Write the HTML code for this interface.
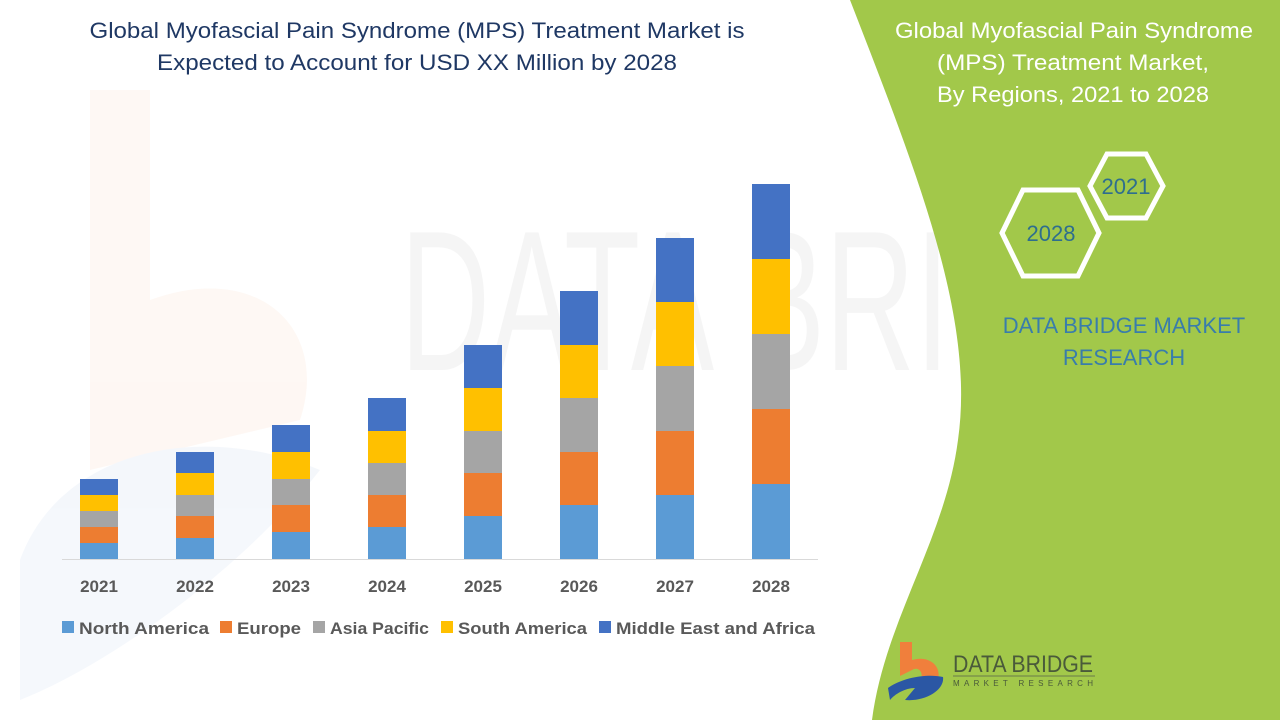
<!DOCTYPE html>
<html><head><meta charset="utf-8"><style>
body{margin:0;width:1280px;height:720px;overflow:hidden;background:#fff;font-family:"Liberation Sans",sans-serif;}
</style></head><body>
<svg width="1280" height="720" viewBox="0 0 1280 720" xmlns="http://www.w3.org/2000/svg" style="position:absolute;left:0;top:0">
<g opacity="0.05">
<path d="M90 90 L150 90 L150 300 C 260 260 330 330 300 420 L 90 470 Z" fill="#ED7D31"/>
<path d="M20 560 C 60 450 200 420 320 470 C 250 560 120 660 20 700 Z" fill="#4472C4"/>
</g>
<text x="400" y="370" font-size="200" fill="#000" opacity="0.035" font-family="Liberation Sans" textLength="820" lengthAdjust="spacingAndGlyphs">DATA BRIDGE</text>
<path d="M850 0 C 920 180, 975 320, 958 440 C 945 540, 885 620, 872 720 L1280 720 L1280 0 Z" fill="#A2C84A"/>
<line x1="62" y1="559.5" x2="818" y2="559.5" stroke="#d9d9d9" stroke-width="1"/>
<g id="bars"></g>
<g font-size="17" font-weight="bold" fill="#595959" text-anchor="middle">
<text x="99" y="592">2021</text><text x="195" y="592">2022</text><text x="291" y="592">2023</text><text x="387" y="592">2024</text><text x="483" y="592">2025</text><text x="579" y="592">2026</text><text x="675" y="592">2027</text><text x="771" y="592">2028</text>
</g>
<g font-size="17" font-weight="bold" fill="#595959">
<rect x="62" y="621" width="12" height="12" fill="#5B9BD5"/><text x="79" y="634" textLength="130" lengthAdjust="spacingAndGlyphs">North America</text>
<rect x="220" y="621" width="12" height="12" fill="#ED7D31"/><text x="237" y="634" textLength="64" lengthAdjust="spacingAndGlyphs">Europe</text>
<rect x="313" y="621" width="12" height="12" fill="#A5A5A5"/><text x="330" y="634" textLength="99" lengthAdjust="spacingAndGlyphs">Asia Pacific</text>
<rect x="441" y="621" width="12" height="12" fill="#FFC000"/><text x="458" y="634" textLength="129" lengthAdjust="spacingAndGlyphs">South America</text>
<rect x="599" y="621" width="12" height="12" fill="#4472C4"/><text x="616" y="634" textLength="199" lengthAdjust="spacingAndGlyphs">Middle East and Africa</text>
</g>
<g font-size="22" fill="#1F3864" text-anchor="middle">
<text x="417" y="38" textLength="655" lengthAdjust="spacingAndGlyphs">Global Myofascial Pain Syndrome (MPS) Treatment Market is</text>
<text x="417" y="70" textLength="520" lengthAdjust="spacingAndGlyphs">Expected to Account for USD XX Million by 2028</text>
</g>
<g font-size="22" fill="#fff" text-anchor="middle">
<text x="1074" y="38" textLength="358" lengthAdjust="spacingAndGlyphs">Global Myofascial Pain Syndrome</text>
<text x="1073" y="70" textLength="272" lengthAdjust="spacingAndGlyphs">(MPS) Treatment Market,</text>
<text x="1073" y="102" textLength="272" lengthAdjust="spacingAndGlyphs">By Regions, 2021 to 2028</text>
</g>
<g fill="none" stroke="#fff" stroke-width="5">
<polygon points="1090,186 1107,154 1146,154 1163,186 1146,218 1107,218"/>
<polygon points="1002,233 1023,190 1078,190 1099,233 1078,276 1023,276"/>
</g>
<g font-size="22" fill="#2E6E8E" text-anchor="middle">
<text x="1126" y="194">2021</text>
<text x="1051" y="241">2028</text>
</g>
<g font-size="22" fill="#2E75B6" text-anchor="middle" opacity="0.9">
<text x="1124" y="333">DATA BRIDGE MARKET</text>
<text x="1124" y="365">RESEARCH</text>
</g>
<path d="M900 642 L912 642 L912 660 C 928 655 942 665 938 680 L 920 682 C 925 672 918 666 912 670 L 900 676 Z" fill="#F07F3C"/>
<path d="M888 688 C 905 676 930 674 943 677 C 945 690 925 702 905 700 L 915 688 C 905 688 895 694 890 700 Z" fill="#2B57A4"/>
<text x="953" y="672" font-size="24" fill="#4a5a3a" textLength="140" lengthAdjust="spacingAndGlyphs">DATA BRIDGE</text>
<line x1="953" y1="676" x2="1095" y2="676" stroke="#6b7a4a" stroke-width="1"/>
<text x="953" y="686" font-size="8" fill="#4a5a3a" textLength="140" lengthAdjust="spacing">MARKET RESEARCH</text>
</svg>
<script>
var d=[[479,495,511,527,543],[452,473,495,516,538],[425,452,479,505,532],[398,431,463,495,527],[345,388,431,473,516],[291,345,398,452,505],[238,302,366,431,495],[184,259,334,409,484]];
var c=["#4472C4","#FFC000","#A5A5A5","#ED7D31","#5B9BD5"];
var s="";
d.forEach(function(b,i){var x=80+96*i;var ys=b.concat([559]);for(var k=0;k<5;k++){s+='<rect x="'+x+'" y="'+ys[k]+'" width="38" height="'+(ys[k+1]-ys[k])+'" fill="'+c[k]+'"/>';}});
document.getElementById("bars").innerHTML=s;
</script>
</body></html>
